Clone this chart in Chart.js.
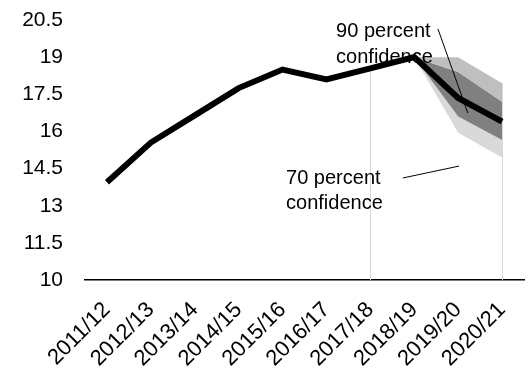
<!DOCTYPE html>
<html>
<head>
<meta charset="utf-8">
<script src="https://cdn.jsdelivr.net/npm/chart.js@4/dist/chart.umd.min.js"></script>
<style>
  html, body { margin: 0; padding: 0; background: #fff; }
  #wrap { width: 528px; height: 376px; position: relative; }
</style>
</head>
<body>
<div id="wrap"><canvas id="c" width="528" height="376"></canvas></div>
<script>
// Fiscal years on the category axis
const categories = ['2011/12', '2012/13', '2013/14', '2014/15', '2015/16',
                    '2016/17', '2017/18', '2018/19', '2019/20', '2020/21'];

// Central path (outturn then forecast)
const central = [13.95, 15.55, 16.65, 17.75, 18.5, 18.1, 18.55, 19.0, 17.35, 16.4];

// Confidence bounds for the forecast years
const upper90 = [null, null, null, null, null, null, null, 19.0, 19.0, 17.95];
const upper70 = [null, null, null, null, null, null, null, 19.0, 18.4, 17.2];
const lower70 = [null, null, null, null, null, null, null, 19.0, 16.6, 15.65];
const lower90 = [null, null, null, null, null, null, null, 19.0, 15.95, 14.95];

// Value-axis tick labels
const yTicks = [10, 11.5, 13, 14.5, 16, 17.5, 19, 20.5];

const FONT = '"Liberation Sans", Arial, sans-serif';

// Thin drop lines at the start of the forecast period and the last year
const dropLines = {
  id: 'dropLines',
  beforeDatasetsDraw(chart) {
    const { ctx, scales: { x, y } } = chart;
    const drops = [
      { i: 6, top: central[6] },
      { i: 9, top: upper90[9] }
    ];
    ctx.save();
    ctx.strokeStyle = '#d9d9d9';
    ctx.lineWidth = 1;
    drops.forEach(d => {
      const px = Math.round(x.getPixelForValue(d.i)) + 0.5;
      ctx.beginPath();
      ctx.moveTo(px, y.getPixelForValue(d.top));
      ctx.lineTo(px, y.getPixelForValue(yTicks[0]));
      ctx.stroke();
    });
    ctx.restore();
  }
};

// Labels for the two confidence bands, with leader lines
const bandLabels = {
  id: 'bandLabels',
  afterDatasetsDraw(chart) {
    const { ctx, scales: { x, y } } = chart;
    const px = v => x.getPixelForValue(v);
    const py = v => y.getPixelForValue(v);
    ctx.save();
    ctx.fillStyle = '#000';
    ctx.font = '20px ' + FONT;
    ctx.textAlign = 'left';
    ctx.textBaseline = 'middle';
    ctx.fillText('90 percent', px(5.22), py(20.02));
    ctx.fillText('confidence', px(5.22), py(19.0));
    ctx.fillText('70 percent', px(4.08), py(14.08));
    ctx.fillText('confidence', px(4.08), py(13.11));
    ctx.strokeStyle = '#000';
    ctx.lineWidth = 1;
    ctx.beginPath();
    ctx.moveTo(px(7.54), py(20.14));
    ctx.lineTo(px(8.22), py(16.74));
    ctx.moveTo(px(6.74), py(14.12));
    ctx.lineTo(px(8.02), py(14.6));
    ctx.stroke();
    ctx.restore();
  }
};

const band = (data, fillTarget, color) => ({
  data,
  borderWidth: 0,
  borderColor: 'rgba(0,0,0,0)',
  backgroundColor: color,
  pointRadius: 0,
  tension: 0,
  fill: fillTarget,
  order: 2
});

new Chart(document.getElementById('c'), {
  type: 'line',
  data: {
    labels: categories,
    datasets: [
      band(upper90, 1, '#bfbfbf'),
      band(upper70, 2, '#808080'),
      band(lower70, 3, '#d9d9d9'),
      band(lower90, false, 'rgba(0,0,0,0)'),
      {
        data: central,
        borderColor: '#000',
        borderWidth: 6,
        pointRadius: 0,
        tension: 0,
        fill: false,
        order: 1
      }
    ]
  },
  options: {
    responsive: false,
    animation: false,
    devicePixelRatio: 1,
    layout: { padding: { top: 20, right: 4, left: 0, bottom: 0 } },
    plugins: {
      legend: { display: false },
      tooltip: { enabled: false },
      filler: { propagate: false }
    },
    scales: {
      x: {
        offset: true,
        grid: { display: false, drawTicks: false },
        border: { display: true, color: '#000', width: 1.5 },
        ticks: {
          color: '#000',
          font: { family: FONT, size: 22 },
          minRotation: 45,
          maxRotation: 45,
          padding: 17,
          autoSkip: false
        },
        afterFit(s) {
          s.height = 96;
          s.paddingLeft = 0;
          s.paddingRight = 0;
        }
      },
      y: {
        min: 10,
        max: 20.5,
        afterBuildTicks(s) { s.ticks = yTicks.map(v => ({ value: v })); },
        grid: { display: false, drawTicks: false },
        border: { display: false },
        ticks: {
          color: '#000',
          font: { family: FONT, size: 21 },
          padding: 22
        },
        afterFit(s) {
          s.width = 85;
          s.paddingTop = 0;
          s.paddingBottom = 0;
        }
      }
    }
  },
  plugins: [dropLines, bandLabels]
});
</script>
</body>
</html>
